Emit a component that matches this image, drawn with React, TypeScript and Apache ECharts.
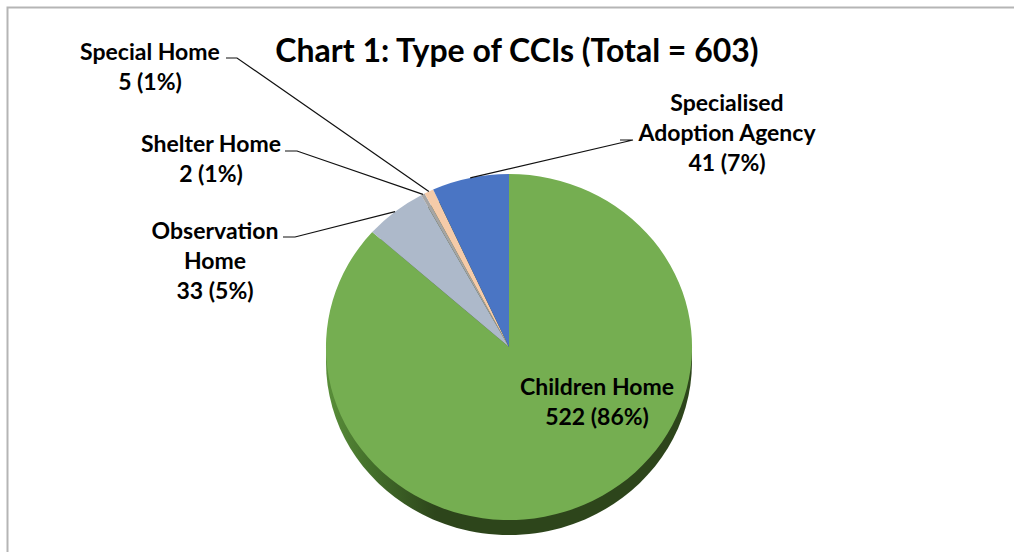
import React, { useEffect, useRef } from "react";
import * as echarts from "echarts";

const categories = ["Children Home", "Observation Home", "Shelter Home", "Special Home", "Specialised Adoption Agency"];
const values = [522, 33, 2, 5, 41];
const percents = [86, 5, 1, 1, 7];
const colors = ["#75AE51", "#ADB9CA", "#A5A5A5", "#F5CBA9", "#4A75C4"];
const titleText = "Chart 1: Type of CCIs (Total = 603)";
const labelLines = [
  ["Children Home"],
  ["Observation", "Home"],
  ["Shelter Home"],
  ["Special Home"],
  ["Specialised", "Adoption Agency"],
];
const FONT = "Lato, Carlito, sans-serif";
const CX = 509, CY = 347, RX = 183, RY = 173, DEPTH = 15;
// label placement: centre x, first line y, and the two points of the leader's horizontal stub
const labelPos = [
  { x: 597, y: 386, stub: null },
  { x: 215, y: 230, stub: [[283, 237], [295, 237]] },
  { x: 211, y: 143, stub: [[285, 151], [297, 151]] },
  { x: 150, y: 51, stub: [[226, 58], [237, 58]] },
  { x: 727, y: 102, stub: [[620, 140], [633, 140]] },
];

const total = values.reduce((a, b) => a + b, 0);

function renderItem(params: any, api: any) {
  const i = params.dataIndex;
  const v = api.value(0);
  let before = 0;
  for (let k = 0; k < i; k++) before += values[k];
  const a0 = -Math.PI / 2 + (before / total) * Math.PI * 2;
  const a1 = a0 + (v / total) * Math.PI * 2;
  const mid = (a0 + a1) / 2;
  const children: any[] = [];
  if (i === 0) {
    children.push({
      type: "ellipse",
      shape: { cx: CX, cy: CY + DEPTH, rx: RX, ry: RY },
      style: {
        fill: new echarts.graphic.LinearGradient(0, 0, 1, 0, [
          { offset: 0, color: "#5A8F3A" },
          { offset: 0.12, color: "#44702B" },
          { offset: 0.3, color: "#2D451B" },
          { offset: 1, color: "#2D451B" },
        ]),
      },
      z2: 0,
    });
  }
  children.push({
    type: "group",
    x: CX,
    y: CY,
    scaleX: RX / RY,
    scaleY: 1,
    children: [
      {
        type: "sector",
        shape: { cx: 0, cy: 0, r0: 0, r: RY, startAngle: a0, endAngle: a1, clockwise: true },
        style: { fill: colors[i] },
      },
    ],
    z2: 1,
  });
  const p = labelPos[i];
  if (p.stub) {
    const ex = CX + RX * Math.cos(mid);
    const ey = CY + RY * Math.sin(mid);
    children.push({
      type: "polyline",
      shape: { points: [p.stub[0], p.stub[1], [ex, ey]] },
      style: { fill: "none", stroke: "#111111", lineWidth: 1.2 },
      z2: 3,
    });
  }
  const lines = labelLines[i].concat([`${v} (${percents[i]}%)`]);
  lines.forEach((t, li) => {
    children.push({
      type: "text",
      x: p.x,
      y: p.y + li * 30,
      style: { text: t, font: `bold 23px ${FONT}`, fill: "#000000", align: "center", verticalAlign: "middle" },
      z2: 4,
    });
  });
  return { type: "group", children };
}

export default function App() {
  const ref = useRef<HTMLDivElement>(null);
  useEffect(() => {
    const chart = echarts.init(ref.current!, undefined, { renderer: "svg" });
    chart.setOption({
      animation: false,
      backgroundColor: "#FFFFFF",
      title: {
        text: titleText,
        left: 512,
        top: 28,
        textAlign: "center",
        textStyle: { fontFamily: FONT, fontWeight: "bold", fontSize: 32, color: "#000000" },
      },
      graphic: [
        {
          type: "polyline",
          shape: { points: [[7.5, 552], [7.5, 7.5], [1014, 7.5]] },
          style: { fill: "none", stroke: "#B5B5B5", lineWidth: 2 },
        },
      ],
      series: [
        {
          type: "custom",
          coordinateSystem: "none",
          renderItem,
          data: values.map((v, i) => ({ name: categories[i], value: [v] })),
          clip: false,
        },
      ],
    });
    return () => chart.dispose();
  }, []);
  return <div ref={ref} style={{ position: "fixed", left: 0, top: 0, width: 1014, height: 552 }} />;
}
